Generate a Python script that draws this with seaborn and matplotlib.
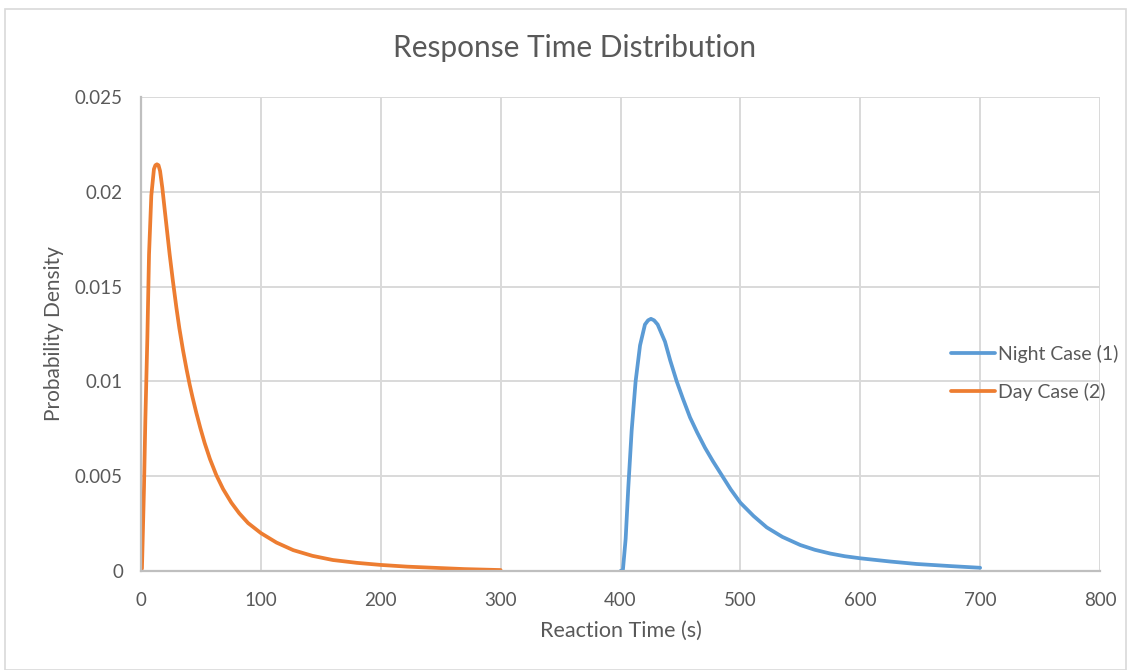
import matplotlib
matplotlib.use("Agg")
import matplotlib.pyplot as plt
import seaborn as sns
import pandas as pd
from matplotlib.patches import Rectangle

# ---- data ----
day_x = [0, 0.8, 2.5, 3.6, 5.3, 6.7, 8.6, 10.8, 12.0, 13.3, 14.6, 15.9, 17.8, 19.7,
         21.8, 23.9, 26.5, 29.5, 32, 35, 38, 40.6, 43, 46.2, 49.5, 53.1, 57.5,
         62.8, 68.5, 75.4, 82, 89.3, 100, 113, 127, 143, 160, 180, 200, 222, 244,
         270, 300]
day_y = [0, 0.00014, 0.0044, 0.0079, 0.0123, 0.0167, 0.0198, 0.0212, 0.02140,
         0.02145, 0.02140, 0.0211, 0.0202, 0.0191, 0.0179, 0.0167, 0.01535, 0.0139,
         0.0128, 0.01166, 0.01064, 0.00983, 0.00916, 0.00833, 0.00754, 0.00675,
         0.00591, 0.00506, 0.00432, 0.00360, 0.00304, 0.00253, 0.00200, 0.0015,
         0.0011, 0.00080, 0.00058, 0.00043, 0.00032, 0.00023, 0.00017, 0.00010,
         0.00005]

night_x = [400, 402, 404.3, 406.5, 409.3, 412.6, 416.3, 420.4, 423, 425.4, 428,
           431, 437.1, 441.5, 446.9, 452, 458, 464, 470.5, 477, 484, 492, 500, 511,
           522, 535, 550, 562, 575, 587, 600, 625, 647, 675, 700]
night_y = [0, 0.00005, 0.0017, 0.0044, 0.0074, 0.0100, 0.0119, 0.0130, 0.01322,
           0.0133, 0.01322, 0.0130, 0.0121, 0.0111, 0.0100, 0.0091, 0.0081, 0.0073,
           0.0065, 0.0058, 0.0051, 0.0043, 0.0036, 0.0029, 0.0023, 0.0018,
           0.00137, 0.00112, 0.00092, 0.00078, 0.00067, 0.00050, 0.00037, 0.00026,
           0.00017]

series_names = ["Night Case (1)", "Day Case (2)"]
series_colors = ["#5B9BD5", "#ED7D31"]
x_ticks = [0, 100, 200, 300, 400, 500, 600, 700, 800]
y_ticks = [0, 0.005, 0.01, 0.015, 0.02, 0.025]
y_tick_labels = ["0", "0.005", "0.01", "0.015", "0.02", "0.025"]

df = pd.concat([
    pd.DataFrame({"x": night_x, "y": night_y, "series": series_names[0]}),
    pd.DataFrame({"x": day_x, "y": day_y, "series": series_names[1]}),
], ignore_index=True)

sns.set_theme(style="white")
plt.rcParams["font.family"] = ["Lato", "DejaVu Sans"]

text_col = "#595959"
fig = plt.figure(figsize=(11.31, 6.70), dpi=100)
ax = fig.add_axes([141 / 1131, 1 - 571 / 670, (1100 - 141) / 1131, (571 - 97) / 670])

sns.lineplot(data=df, x="x", y="y", hue="series", hue_order=series_names,
             palette=series_colors, linewidth=2.7, ax=ax, sort=False,
             estimator=None)
for ln in ax.get_lines():
    ln.set_solid_joinstyle("round")
    ln.set_solid_capstyle("round")

ax.set_xlim(0, 800)
ax.set_ylim(0, 0.025)
ax.set_xticks(x_ticks)
ax.set_xticklabels([str(t) for t in x_ticks])
ax.set_yticks(y_ticks)
ax.set_yticklabels(y_tick_labels)
ax.grid(True, color="#D9D9D9", linewidth=1.4)
ax.set_axisbelow(True)
ax.tick_params(length=0, labelsize=13.5, colors=text_col)
ax.tick_params(axis="x", pad=15)
ax.tick_params(axis="y", pad=13)
for s in ["top", "right"]:
    ax.spines[s].set_visible(False)
for s in ["left", "bottom"]:
    ax.spines[s].set_color("#BFBFBF")
    ax.spines[s].set_linewidth(1.6)

ax.set_xlabel("Reaction Time (s)", fontsize=15.5, color=text_col, labelpad=9)
ax.set_ylabel("Probability Density", fontsize=15, color=text_col, labelpad=8)
fig.suptitle("Response Time Distribution", x=575 / 1131, y=1 - 48 / 670,
             va="center", fontsize=21.5, color=text_col)

leg = ax.legend(loc="center left", bbox_to_anchor=(0.826, 0.418), frameon=False,
                fontsize=14, handlelength=2.3, handletextpad=0.15,
                labelspacing=1.05)
for t in leg.get_texts():
    t.set_color(text_col)
for h in leg.get_lines():
    h.set_linewidth(2.7)

fig.patches.append(Rectangle((5 / 1131, 0), 1121 / 1131, 1 - 9 / 670,
                             transform=fig.transFigure, fill=False,
                             edgecolor="#D9D9D9", linewidth=1.2))

fig.savefig("out.png", dpi=100, facecolor="white")
